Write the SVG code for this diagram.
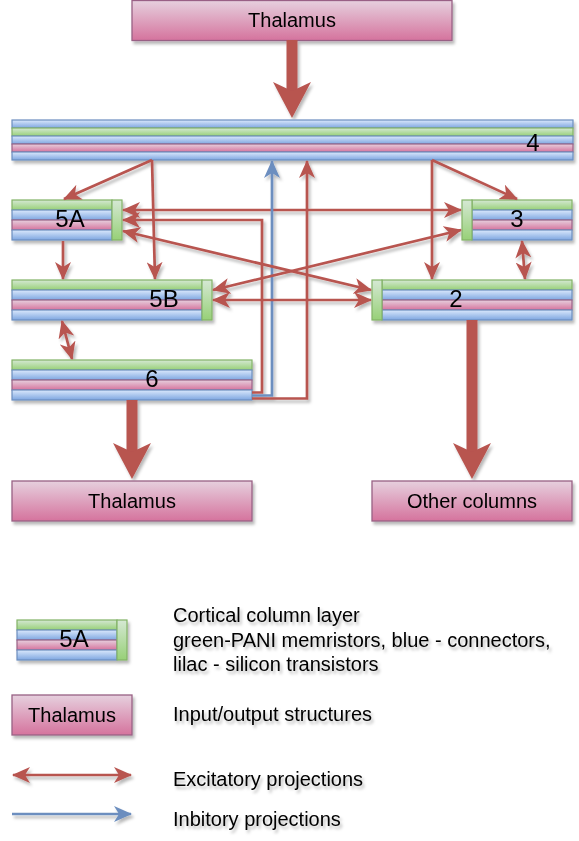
<svg xmlns="http://www.w3.org/2000/svg" width="579" height="841" viewBox="0 0 579 841">
<defs>
<linearGradient id="gB" x1="0" y1="0" x2="0" y2="1"><stop offset="0" stop-color="#dae8fc"/><stop offset="1" stop-color="#7ea6e0"/></linearGradient>
<linearGradient id="gG" x1="0" y1="0" x2="0" y2="1"><stop offset="0" stop-color="#d5e8d4"/><stop offset="1" stop-color="#97d077"/></linearGradient>
<linearGradient id="gP" x1="0" y1="0" x2="0" y2="1"><stop offset="0" stop-color="#e6d0de"/><stop offset="1" stop-color="#d5739d"/></linearGradient>
<filter id="sh" x="-5%" y="-5%" width="115%" height="115%">
<feDropShadow dx="2" dy="3" stdDeviation="1.6" flood-color="#000" flood-opacity="0.28"/>
</filter>
<marker id="aR" viewBox="0 0 18 16" markerWidth="18" markerHeight="16" refX="17" refY="8" markerUnits="userSpaceOnUse" orient="auto-start-reverse">
<path d="M0,0 L18,8 L0,16 L5,8 Z" fill="#b85450"/>
</marker>
<marker id="aB" viewBox="0 0 18 16" markerWidth="18" markerHeight="16" refX="17" refY="8" markerUnits="userSpaceOnUse" orient="auto-start-reverse">
<path d="M0,0 L18,8 L0,16 L5,8 Z" fill="#6c8ebf"/>
</marker>
</defs>
<style>
.b{fill:url(#gB);stroke:#6c8ebf;stroke-width:1.2}
.g{fill:url(#gG);stroke:#82b366;stroke-width:1.2}
.p{fill:url(#gP);stroke:#996185;stroke-width:1.2}
.io{fill:url(#gP);stroke:#996185;stroke-width:1.3}
.lbl{font-family:"Liberation Sans",Arial,Helvetica,sans-serif;font-size:24px;fill:#000;text-anchor:middle}
.txt{font-family:"Liberation Sans",Arial,Helvetica,sans-serif;font-size:20px;fill:#000}
.mid{text-anchor:middle}
.er{fill:none;stroke:#b85450;stroke-width:2.7}
.eb{fill:none;stroke:#6c8ebf;stroke-width:2.7}
.thick{fill:#b85450}
</style>
<g filter="url(#sh)">
<g id="thalamus-top">
<rect class="io" x="132" y="0.5" width="320" height="40"/>
<text class="txt mid" x="292" y="27">Thalamus</text>
</g>
<g id="layer4">
<rect class="b" x="12" y="120" width="561" height="8"/>
<rect class="g" x="12" y="128" width="561" height="8"/>
<rect class="b" x="12" y="136" width="561" height="8"/>
<rect class="p" x="12" y="144" width="561" height="8"/>
<rect class="b" x="12" y="152" width="561" height="8"/>
<text class="lbl" x="533" y="151">4</text>
</g>
<g id="layer5A">
<rect class="g" x="12" y="200" width="100" height="10"/>
<rect class="b" x="12" y="210" width="100" height="10"/>
<rect class="p" x="12" y="220" width="100" height="10"/>
<rect class="b" x="12" y="230" width="100" height="10"/>
<rect class="g" x="112" y="200" width="10" height="40"/>
<text class="lbl" x="70" y="227">5A</text>
</g>
<g id="layer3">
<rect class="g" x="472" y="200" width="100" height="10"/>
<rect class="b" x="472" y="210" width="100" height="10"/>
<rect class="p" x="472" y="220" width="100" height="10"/>
<rect class="b" x="472" y="230" width="100" height="10"/>
<rect class="g" x="462" y="200" width="10" height="40"/>
<text class="lbl" x="517" y="227">3</text>
</g>
<g id="layer5B">
<rect class="g" x="12" y="280" width="190" height="10"/>
<rect class="b" x="12" y="290" width="190" height="10"/>
<rect class="p" x="12" y="300" width="190" height="10"/>
<rect class="b" x="12" y="310" width="190" height="10"/>
<rect class="g" x="202" y="280" width="10" height="40"/>
<text class="lbl" x="164" y="307">5B</text>
</g>
<g id="layer2">
<rect class="g" x="382" y="280" width="190" height="10"/>
<rect class="b" x="382" y="290" width="190" height="10"/>
<rect class="p" x="382" y="300" width="190" height="10"/>
<rect class="b" x="382" y="310" width="190" height="10"/>
<rect class="g" x="372" y="280" width="10" height="40"/>
<text class="lbl" x="456" y="307">2</text>
</g>
<g id="layer6">
<rect class="g" x="12" y="360" width="240" height="10"/>
<rect class="b" x="12" y="370" width="240" height="10"/>
<rect class="p" x="12" y="380" width="240" height="10"/>
<rect class="b" x="12" y="390" width="240" height="10"/>
<text class="lbl" x="152" y="387">6</text>
</g>
<g id="thalamus-bottom">
<rect class="io" x="12" y="481" width="240" height="40"/>
<text class="txt mid" x="132" y="508">Thalamus</text>
</g>
<g id="other-columns">
<rect class="io" x="372" y="481" width="200" height="40"/>
<text class="txt mid" x="472" y="508">Other columns</text>
</g>
<g id="connectors">
<rect class="thick" x="286.5" y="40" width="11" height="52"/>
<polygon class="thick" points="273,82 292,118 311,82 292,91"/>
<rect class="thick" x="126.5" y="400" width="11" height="52"/>
<polygon class="thick" points="113,443 132,479 151,443 132,452"/>
<rect class="thick" x="466.5" y="320" width="11" height="132"/>
<polygon class="thick" points="453,443 472,479 491,443 472,452"/>
<path class="er" d="M152,160 L64,199" marker-end="url(#aR)"/>
<path class="er" d="M152,160 L155,279" marker-end="url(#aR)"/>
<path class="er" d="M432,160 L517,199" marker-end="url(#aR)"/>
<path class="er" d="M432,160 L432,279" marker-end="url(#aR)"/>
<path class="er" d="M123,210 L461,210" marker-start="url(#aR)" marker-end="url(#aR)"/>
<path class="er" d="M252,392.5 H262 V220 H123" marker-end="url(#aR)"/>
<path class="eb" d="M252,395.5 H272 V161" marker-end="url(#aB)"/>
<path class="er" d="M252,398.5 H307 V161" marker-end="url(#aR)"/>
<path class="er" d="M123,231 L371,290" marker-start="url(#aR)" marker-end="url(#aR)"/>
<path class="er" d="M213,290 L461,230" marker-start="url(#aR)" marker-end="url(#aR)"/>
<path class="er" d="M213,300 L371,300" marker-start="url(#aR)" marker-end="url(#aR)"/>
<path class="er" d="M63,241 L63,279" marker-end="url(#aR)"/>
<path class="er" d="M62,321 L72,359" marker-start="url(#aR)" marker-end="url(#aR)"/>
<path class="er" d="M522,241 L525,279" marker-start="url(#aR)" marker-end="url(#aR)"/>
</g>
<g id="legend">
<g id="legend-layer">
<rect class="g" x="17" y="620" width="100" height="10"/>
<rect class="b" x="17" y="630" width="100" height="10"/>
<rect class="p" x="17" y="640" width="100" height="10"/>
<rect class="b" x="17" y="650" width="100" height="10"/>
<rect class="g" x="117" y="620" width="10" height="40"/>
<text class="lbl" x="74" y="647">5A</text>
</g>
<g id="legend-io">
<rect class="io" x="12" y="695" width="120" height="40"/>
<text class="txt mid" x="72" y="722">Thalamus</text>
</g>
<path class="er" d="M13,775 L131,775" marker-start="url(#aR)" marker-end="url(#aR)"/>
<path class="eb" d="M12,814 L131,814" marker-end="url(#aB)"/>
<text class="txt" x="173" y="622">Cortical column layer</text>
<text class="txt" x="173" y="647">green-PANI memristors, blue - connectors,</text>
<text class="txt" x="173" y="671">lilac - silicon transistors</text>
<text class="txt" x="173" y="721">Input/output structures</text>
<text class="txt" x="173" y="786">Excitatory projections</text>
<text class="txt" x="173" y="826">Inbitory projections</text>
</g>
</g>
</svg>
